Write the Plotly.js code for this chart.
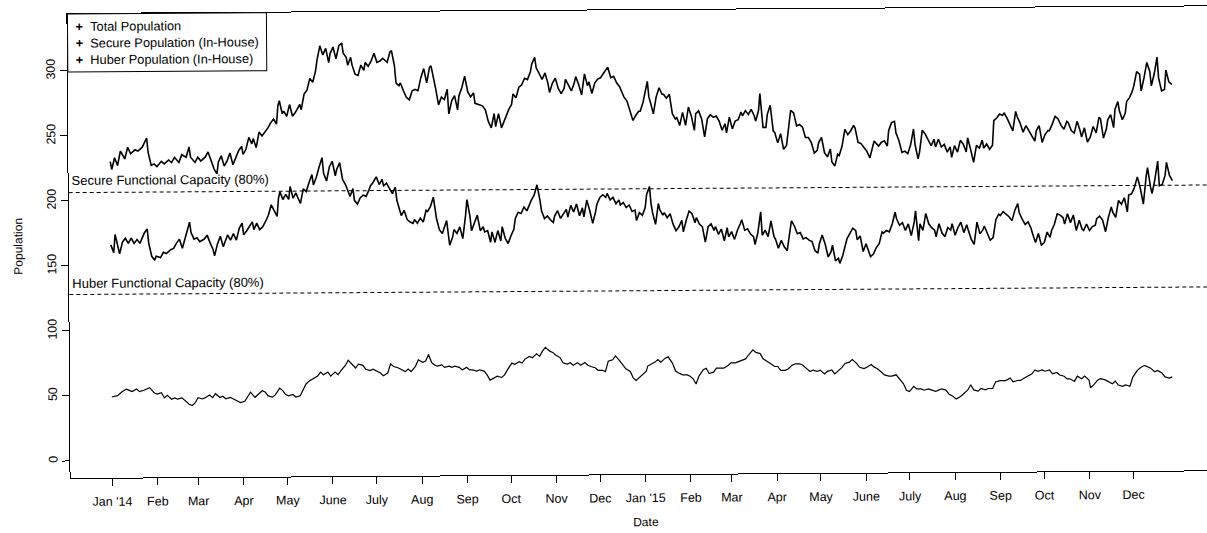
<!DOCTYPE html>
<html>
<head>
<meta charset="utf-8">
<script src="https://cdn.plot.ly/plotly-3.0.1.min.js"></script>
<style>
  html, body { margin: 0; padding: 0; background: #fff; }
  #wrap { width: 1207px; height: 533px; overflow: hidden; position: relative; background: #fff; }
  #chart { width: 1240px; height: 533px; transform: rotate(-0.385deg); transform-origin: 69px 246px; }
</style>
</head>
<body>
<div id="wrap"><div id="chart"></div></div>
<script>
// ---------- data (day offsets within each year) ----------
const seriesNames = ["Total Population", "Secure Population (In-House)", "Huber Population (In-House)"];
const capacityNames = ["Secure Functional Capacity (80%)", "Huber Functional Capacity (80%)"];
const capacityValues = [206.4, 128.0];
const monthLabels = ["Jan '14","Feb","Mar","Apr","May","June","July","Aug","Sep","Oct","Nov","Dec",
                     "Jan '15","Feb","Mar","Apr","May","June","July","Aug","Sep","Oct","Nov","Dec"];
const yTicks = [0, 50, 100, 150, 200, 250, 300];

const totalDays14 = [0,1,3,5,7,10,12,14,17,19,22,25,26,28,30,32,35,37,40,42,44,47,49,52,54,55,58,60,62,65,67,69,71,73,74,76,78,80,82,84,86,88,90,91,93,95,97,98,100,102,104,106,108,110,112,114,115,116,118,119,121,123,125,127,130,131,133,135,137,139,141,142,144,146,148,150,151,153,155,157,159,160,162,163,165,166,168,170,172,174,175,177,179,181,183,185,187,189,190,192,193,195,196,198,199,201,203,205,207,209,211,213,215,217,219,220,222,223,225,227,229,231,232,234,236,238,239,241,243,245,247,249,250,253,255,257,259,261,263,264,266,268,270,271,273,275,276,278,280,282,284,286,288,289,291,292,294,296,298,300,301,303,305,307,309,311,312,314,316,318,319,321,323,325,327,328,330,332,334,336,337,339,341,343,345,347,349,351,352,354,356,358,360,362,363];
const totalVals14 = [230,224,233,227,238,232,241,236,239,238,241,248,237,227,228,226,230,228,231,229,233,229,235,233,241,233,229,233,230,233,237,230,224,220,229,234,226,230,236,227,232,238,241,235,239,248,243,247,240,252,249,252,255,259,262,258,272,276,266,268,264,273,264,267,273,269,281,284,293,290,299,307,318,311,316,305,312,317,308,318,320,312,309,303,309,303,296,295,303,299,305,302,306,312,305,306,308,306,305,313,314,302,289,287,289,283,278,276,283,284,283,293,300,289,301,302,292,285,272,278,276,284,265,275,279,268,279,285,294,282,278,281,273,272,271,268,259,254,265,255,265,254,260,262,268,272,280,277,285,287,292,291,297,303,308,300,296,291,296,288,281,288,292,284,280,284,291,286,282,288,293,287,279,295,286,289,280,288,291,292,294,297,300,292,293,288,285,279,277,274,267,259,263,266,266];
const totalDays15 = [0,3,4,5,7,9,11,13,14,16,18,20,22,23,25,27,29,31,33,35,36,38,40,42,44,46,48,50,52,54,56,57,59,61,63,65,67,68,70,72,74,76,77,79,80,82,84,85,87,89,90,92,94,96,98,100,101,103,105,107,109,111,113,115,117,119,120,122,124,126,128,129,131,133,134,136,138,140,142,144,145,147,149,151,153,155,156,158,161,163,165,167,168,170,172,173,175,177,179,181,183,185,186,188,189,191,193,195,197,199,200,202,204,206,208,210,211,213,215,217,219,221,222,224,226,228,230,232,233,235,237,239,240,242,244,246,247,249,251,253,255,256,258,260,262,264,266,268,269,271,273,275,277,278,280,282,284,286,288,290,291,293,295,297,299,300,302,304,306,308,310,312,313,315,317,318,320,322,323,325,326,328,330,331,333,335,336,338,340,341,343,344,345,347,348,350,352,353,355,357,358,360,362];
const totalVals15 = [273,289,277,273,264,277,284,279,279,276,279,264,260,261,255,265,255,269,262,251,264,266,260,246,260,263,261,262,258,251,256,249,261,252,258,259,265,262,266,263,267,262,258,266,279,253,253,263,270,250,249,241,248,236,239,257,266,264,254,255,253,245,245,241,233,235,241,245,233,230,236,226,223,232,231,238,251,247,250,254,252,241,240,237,234,229,234,242,238,241,242,238,250,256,257,248,242,233,234,232,239,251,239,228,233,250,247,243,238,243,237,243,237,239,233,237,229,238,233,242,239,233,244,235,225,238,236,242,236,239,235,238,257,259,262,261,263,259,254,249,264,260,255,248,253,249,244,241,249,253,240,246,249,249,254,260,258,253,250,256,255,249,247,256,249,244,251,240,244,252,247,259,258,243,250,257,261,251,265,271,264,257,262,271,274,279,283,294,292,279,289,297,301,294,283,292,305,289,279,280,295,286,284];

const secureDays14 = [0,2,3,5,6,8,10,12,14,16,18,20,23,25,26,28,30,31,34,36,38,41,43,45,47,49,51,54,55,57,59,61,64,66,68,70,71,73,75,77,78,80,82,84,86,88,90,91,93,95,97,98,100,102,104,106,108,110,112,114,115,116,118,120,122,123,125,127,128,130,132,134,136,138,139,141,143,145,146,148,150,152,154,155,157,159,161,163,164,166,167,169,171,173,175,177,178,180,182,184,186,187,189,191,193,195,196,198,199,201,203,205,207,208,210,212,214,216,217,219,221,223,225,227,228,230,232,234,235,237,239,241,243,244,246,247,249,251,253,255,256,258,260,261,263,265,267,268,270,272,274,276,277,279,281,283,285,287,288,290,292,294,295,297,299,301,303,304,306,308,310,312,313,315,317,319,321,323,324,326,328,330,332,333,335,337,339,340,342,344,346,348,349,351,353,355,357,359,360,362,364];
const secureVals14 = [166,160,174,165,159,168,171,167,171,167,170,167,175,178,167,157,154,157,156,160,159,162,163,167,170,163,171,183,175,170,171,168,170,173,167,162,157,166,172,164,167,173,169,174,169,178,182,173,176,180,183,177,182,177,179,183,188,196,192,187,201,206,200,204,200,210,201,205,202,197,208,206,213,219,211,217,225,232,220,214,225,229,218,223,228,215,211,205,202,208,199,196,201,203,202,207,210,213,217,211,215,210,212,208,204,209,199,191,187,191,184,182,181,184,181,185,182,191,190,194,201,185,176,173,176,183,164,170,176,173,178,169,187,199,186,175,181,187,175,178,174,175,166,174,166,175,167,178,169,165,171,176,184,189,188,193,190,196,198,202,210,198,190,184,186,183,181,186,190,184,188,191,185,194,189,195,186,192,185,198,190,180,189,195,200,202,200,203,198,200,195,198,194,196,192,194,189,190,182,188,186];
const secureDays15 = [1,2,4,5,6,8,10,11,13,14,16,18,20,22,24,26,27,29,31,33,35,36,38,40,42,44,46,48,49,51,53,55,57,58,60,62,64,66,67,69,71,73,75,76,78,80,81,83,85,87,89,90,92,94,96,98,100,101,103,105,107,109,111,113,115,117,119,120,122,124,126,128,129,131,133,134,136,137,139,141,143,145,146,148,150,152,154,155,157,159,161,163,164,166,168,170,172,173,175,177,179,181,183,185,186,188,189,191,193,195,197,199,200,202,204,206,208,210,211,213,215,217,219,221,222,224,226,228,230,232,233,235,237,239,241,243,244,246,248,250,252,254,256,257,259,261,263,265,266,268,270,272,274,276,278,279,281,283,285,287,288,290,292,294,296,298,300,301,303,305,307,309,310,312,314,316,318,320,321,323,325,327,329,331,332,334,336,338,340,342,344,345,347,348,350,352,353,355,357,358,360,362];
const secureVals15 = [192,202,208,195,188,179,195,190,186,188,184,187,179,174,177,182,173,182,189,187,180,184,179,177,165,177,179,174,177,171,175,166,176,169,173,167,174,179,182,174,175,171,169,163,172,188,170,174,169,181,169,167,160,166,161,158,174,181,177,171,172,167,168,166,165,158,156,163,170,163,153,157,162,150,152,148,154,158,167,171,175,173,166,169,157,163,157,153,155,160,163,172,171,173,172,178,187,182,177,179,173,178,169,179,188,165,178,173,186,178,175,173,168,178,171,168,175,173,178,169,175,179,171,177,173,166,162,179,170,173,176,171,165,167,181,185,184,187,185,183,180,188,193,186,181,177,179,174,170,163,170,161,163,171,167,172,177,185,184,182,177,185,178,184,172,180,173,172,177,172,175,176,181,183,180,171,182,190,186,182,195,192,197,186,199,200,205,213,204,192,213,220,205,200,211,225,206,207,214,224,214,210];

const huberDays14 = [0,4,7,10,12,14,17,19,22,24,26,29,31,34,36,38,41,43,45,48,50,53,55,57,59,62,64,67,69,71,74,76,78,81,83,86,88,91,93,95,98,100,103,105,107,110,112,115,117,119,121,124,126,129,131,133,135,138,141,143,145,148,150,153,155,157,160,162,165,167,169,172,174,177,179,181,184,186,189,191,193,196,198,201,203,205,208,210,213,215,217,219,221,223,226,228,231,233,235,238,240,243,245,247,250,252,255,257,259,262,264,267,269,271,274,276,279,281,283,286,288,291,293,295,297,300,302,304,307,309,312,314,316,319,321,324,326,328,331,333,336,338,340,343,345,348,350,352,355,357,359,361,363];
const huberVals14 = [49,50,53,55,54,53,55,53,54,55,56,52,51,52,48,50,47,48,47,48,46,43,42,44,48,47,48,50,48,51,48,49,47,48,47,45,44,45,49,52,48,50,53,52,49,48,50,55,53,50,49,50,48,49,53,58,60,62,64,67,65,67,64,67,65,68,72,76,72,70,73,72,69,68,69,68,66,64,66,73,71,70,69,67,69,67,71,76,74,75,80,74,72,71,72,70,71,70,71,70,68,70,68,68,67,68,67,64,60,62,63,62,64,68,73,72,74,73,76,78,77,80,78,82,85,82,81,79,77,73,72,73,71,73,71,73,71,70,69,67,67,66,74,75,78,74,71,68,66,61,59,61,63];
const huberDays15 = [1,2,4,7,9,11,14,16,19,21,24,26,29,31,33,35,37,40,42,44,47,49,52,54,57,59,62,64,66,69,71,74,76,79,81,84,86,89,91,93,96,98,101,103,106,108,111,113,115,118,120,123,125,128,130,133,135,137,140,142,145,147,150,152,155,157,159,162,164,167,169,172,174,177,179,181,184,186,189,191,194,196,199,201,203,206,208,211,213,216,218,221,223,225,228,230,233,235,238,240,243,245,247,250,252,255,257,260,262,265,267,269,272,274,277,279,282,284,287,289,291,294,296,299,301,304,305,307,310,312,315,317,320,322,324,327,329,332,334,337,339,342,344,346,349,351,354,356,359,361];
const huberVals15 = [66,70,71,73,75,73,76,77,72,66,64,63,63,62,60,56,62,67,68,64,65,68,68,68,70,72,72,73,74,75,78,82,80,79,75,73,71,69,69,66,66,67,70,71,71,70,67,65,66,65,66,63,65,66,63,66,68,71,72,74,71,68,67,68,70,68,67,64,62,61,61,62,59,55,50,49,53,51,51,50,51,50,49,50,51,50,47,45,43,45,47,50,54,50,49,51,50,51,51,56,57,57,57,59,56,57,57,59,60,62,65,64,65,64,65,62,63,61,60,58,58,56,60,58,60,57,51,53,57,58,57,56,54,56,53,52,53,52,59,64,66,68,67,66,63,64,62,59,58,59];

// ---------- helpers ----------
const BASE = Date.UTC(2014, 0, 1);
const DAY = 86400000;
function dayToStr(d) {
  return new Date(BASE + d * DAY).toISOString().replace('T', ' ').slice(0, 19);
}
function buildX(d14, d15) {
  return d14.map(dayToStr).concat(d15.map(d => dayToStr(d + 365)));
}
const tickVals = monthLabels.map((_, i) => {
  const y = 2014 + Math.floor(i / 12);
  const m = (i % 12) + 1;
  return y + '-' + String(m).padStart(2, '0') + '-01';
});

const FONT = 'Liberation Sans, Arial, Helvetica, sans-serif';
const INK = '#000000';

const traces = [
  { x: buildX(totalDays14, totalDays15), y: totalVals14.concat(totalVals15),
    name: seriesNames[0], mode: 'lines', line: { color: INK, width: 1.6 } },
  { x: buildX(secureDays14, secureDays15), y: secureVals14.concat(secureVals15),
    name: seriesNames[1], mode: 'lines', line: { color: INK, width: 1.6 } },
  { x: buildX(huberDays14, huberDays15), y: huberVals14.concat(huberVals15),
    name: seriesNames[2], mode: 'lines', line: { color: INK, width: 1.2 } }
];

const shapes = capacityValues.map(v => ({
  type: 'line', xref: 'paper', x0: 0, x1: 1, yref: 'y', y0: v, y1: v,
  line: { color: INK, width: 1, dash: '4px,3px' }
}));
// legend box
shapes.push({ type: 'rect', xref: 'paper', yref: 'paper', x0: 0, x1: 0.173, y0: 0.875, y1: 1,
  line: { color: INK, width: 1 }, fillcolor: '#ffffff', layer: 'above' });

const annotations = [
  { xref: 'paper', yref: 'y', x: 0.001, y: capacityValues[0] + 9.0, xanchor: 'left', yanchor: 'middle',
    text: capacityNames[0], showarrow: false, font: { family: FONT, size: 13, color: INK } },
  { xref: 'paper', yref: 'y', x: 0.001, y: capacityValues[1] + 8.6, xanchor: 'left', yanchor: 'middle',
    text: capacityNames[1], showarrow: false, font: { family: FONT, size: 13, color: INK } },
  // legend entries as one text block
  { xref: 'paper', yref: 'paper', x: 0.0055, y: 0.9375, xanchor: 'left', yanchor: 'middle', align: 'left',
    text: seriesNames.map(n => '<b>+</b>\u00a0\u00a0' + n).join('<br>'),
    showarrow: false, font: { family: FONT, size: 12.8, color: INK } }
];

const layout = {
  width: 1240, height: 533,
  margin: { l: 69, r: 21, t: 14, b: 55 },
  paper_bgcolor: '#ffffff', plot_bgcolor: '#ffffff',
  font: { family: FONT, size: 12, color: INK },
  showlegend: false,
  xaxis: {
    type: 'date', range: [dayToStr(-28.6), dayToStr(758.6)],
    tickmode: 'array', tickvals: tickVals, ticktext: monthLabels,
    ticks: 'outside', ticklen: 7, tickwidth: 1, tickcolor: INK,
    showline: true, mirror: true, linecolor: INK, linewidth: 1,
    showgrid: false, zeroline: false, automargin: false,
    tickfont: { family: FONT, size: 12.5, color: INK }, ticklabelstandoff: 5,
    title: { text: 'Date', font: { family: FONT, size: 12, color: INK }, standoff: 18 }
  },
  yaxis: {
    range: [-13.1, 343.8], tickmode: 'array', tickvals: yTicks, ticktext: yTicks.map(String),
    tickangle: -90, ticks: 'outside', ticklen: 7, tickwidth: 1, tickcolor: INK,
    showline: true, mirror: true, linecolor: INK, linewidth: 1,
    showgrid: false, zeroline: false, automargin: false,
    tickfont: { family: FONT, size: 12.5, color: INK }, ticklabelstandoff: 0,
    title: { text: 'Population', font: { family: FONT, size: 12, color: INK }, standoff: 19 }
  },
  shapes: shapes,
  annotations: annotations
};

Plotly.newPlot('chart', traces, layout, { staticPlot: true, displayModeBar: false });
</script>
</body>
</html>
